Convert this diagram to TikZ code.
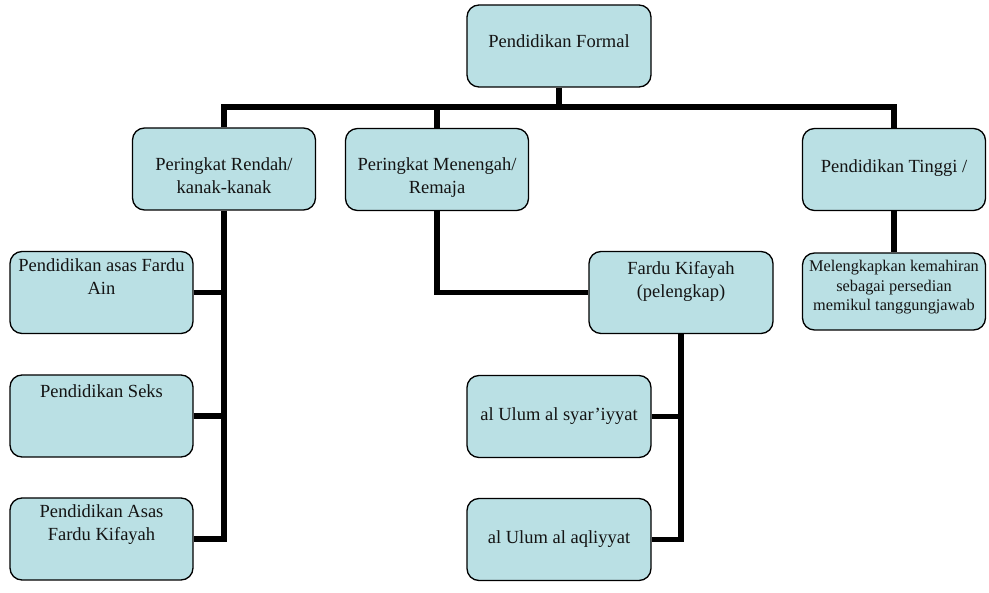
\documentclass[tikz,border=0pt]{standalone}
\usepackage{fontspec}
\setmainfont{Liberation Serif}
\usetikzlibrary{backgrounds,calc}
\definecolor{boxfill}{RGB}{186,224,228}
\definecolor{txtcol}{RGB}{20,20,20}
\begin{document}
\begin{tikzpicture}[x=1pt,y=-1pt,
  box/.style={draw=black, line width=1.3pt, fill=boxfill, rounded corners=12pt, inner sep=0pt, minimum width=183pt, minimum height=82pt},
  txt/.style={anchor=base, align=center, inner sep=0pt, text=txtcol, font=\fontsize{18.5}{23}\selectfont},
  smalltxt/.style={anchor=base, align=center, inner sep=0pt, text=txtcol, font=\fontsize{16.3}{19.5}\selectfont},
  conn/.style={draw=black, line width=5.5pt, line join=miter}]
\useasboundingbox (0,0) rectangle (989,593);
% boxes
\node[box, minimum width=184pt] (F) at (559,46) {};
\node[box] (R) at (224,169) {};
\node[box] (M) at (437,169.5) {};
\node[box] (T) at (894,169.5) {};
\node[box] (A) at (101.5,292.5) {};
\node[box] (S) at (101.5,416) {};
\node[box] (K) at (101.5,539) {};
\node[box, minimum width=184pt] (FK) at (681,292.5) {};
\node[box, minimum width=184pt] (U1) at (559,416.5) {};
\node[box, minimum width=184pt] (U2) at (559,539.5) {};
\node[box, minimum height=77pt] (L) at (894,291.5) {};
% texts (base = baseline of last line)
\node[txt] (Ft) at (559,48) {Pendidikan Formal};
\node[txt] (Rt) at (224,194) {Peringkat Rendah/\\kanak-kanak};
\node[txt] (Mt) at (437,194) {Peringkat Menengah/\\Remaja};
\node[txt] (Tt) at (894,173) {Pendidikan Tinggi /};
\node[txt] (At) at (101.5,295) {Pendidikan asas Fardu\\Ain};
\node[txt] (St) at (101.5,398) {Pendidikan Seks};
\node[txt] (Kt) at (101.5,541) {Pendidikan Asas\\Fardu Kifayah};
\node[txt] (FKt) at (681,297.5) {Fardu Kifayah\\(pelengkap)};
\node[txt] (U1t) at (559,421) {al Ulum al syar’iyyat};
\node[txt] (U2t) at (559,544) {al Ulum al aqliyyat};
\node[smalltxt] (Lt) at (894,311) {Melengkapkan kemahiran\\sebagai persedian\\memikul tanggungjawab};
% connectors
\begin{scope}[on background layer]
\draw[conn] (R.north) -- ++(0,-20.5) -| (T.north);
\draw[conn] (F.south) -- (F.south |- 0,107.5);
\draw[conn] (M.north) -- (M.north |- 0,107.5);
\draw[conn] (R.south) -- (R.south |- K.east) -- (K.east);
\draw[conn] (A.east) -- (A.east -| R.south);
\draw[conn] (S.east) -- (S.east -| R.south);
\draw[conn] (M.south) |- (FK.west);
\draw[conn] (FK.south) |- (U2.east);
\draw[conn] (U1.east) -- (U1.east -| FK.south);
\draw[conn] (T.south) -- (L.north);
\end{scope}
\end{tikzpicture}
\end{document}
